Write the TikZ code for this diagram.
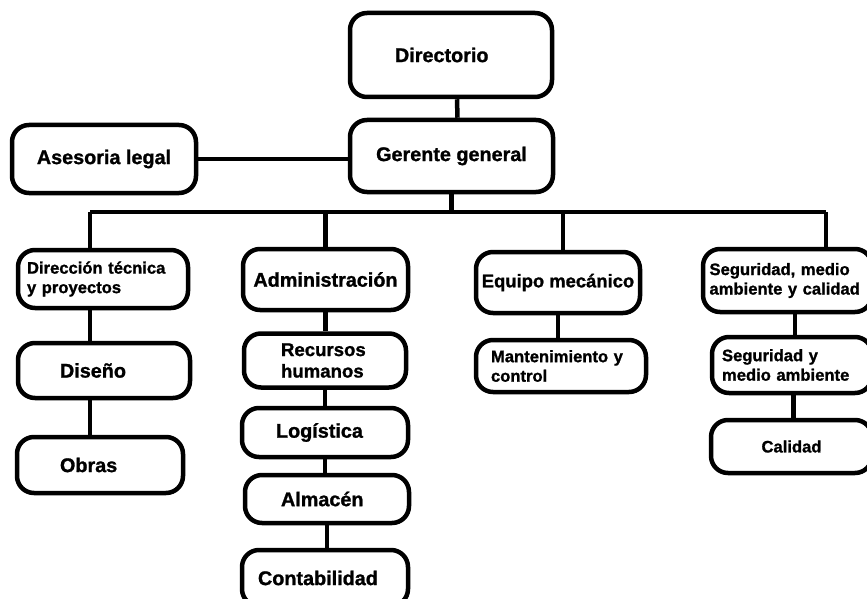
\documentclass[tikz,border=0pt]{standalone}
\usepackage{fontspec}
\setmainfont{Liberation Sans}[BoldFeatures={FakeBold=1.2}]
\usetikzlibrary{calc}
\tikzstyle{box} = [draw, line width=4.5, rounded corners=17, inner xsep=2, inner ysep=0, font=\bfseries]
\tikzstyle{big text}   = [font=\fontsize{19.8}{22}\selectfont\bfseries]
\tikzstyle{small text} = [font=\fontsize{16.6}{19.5}\selectfont\bfseries]

\begin{document}
\begin{tikzpicture}[x=1pt, y=-1pt, line width=4.5]
    \useasboundingbox (0,0) rectangle (867,599);
    \clip (0,0) rectangle (867,599);

    % Top of the chart
    \node(dir)[box, big text, minimum width=202, minimum height=84, text width=112, align=left] at (451,55) {Directorio};
    \node(ger)[box, big text, minimum width=203, minimum height=72] at (451.5,156) {Gerente general};
    \node(ase)[box, big text, minimum width=184, minimum height=68] at (104,159) {Asesoria legal};

    % First level
    \node(dtp)[box, small text, minimum width=170, minimum height=58, text width=152, align=left] at (103,279) {Dirección técnica\\y proyectos};
    \node(adm)[box, big text, minimum width=165, minimum height=61] at (325.5,279.5) {Administración};
    \node(equ)[box, font=\fontsize{18.4}{21}\selectfont\bfseries, minimum width=164, minimum height=61] at (558,282.5) {Equipo mecánico};
    \node(seg)[box, small text, minimum width=169, minimum height=63, text width=156, align=left] at (787.5,280.5) {Seguridad, medio\\ambiente y calidad};

    % Direccion tecnica branch
    \node(dis)[box, big text, minimum width=172, minimum height=55, text width=88, align=left] at (104,370.5) {Diseño};
    \node(obr)[box, big text, minimum width=166, minimum height=56, text width=80, align=left] at (100,465) {Obras};

    % Administracion branch
    \node(rh)[box, font=\fontsize{18.6}{21.5}\selectfont\bfseries, minimum width=162, minimum height=54, text width=88, align=left] at (325,360.5) {Recursos\\humanos};
    \node(log)[box, big text, minimum width=166, minimum height=49, text width=98, align=left] at (325,432.5) {Logística};
    \node(alm)[box, big text, minimum width=164, minimum height=48, text width=92, align=left] at (327,499) {Almacén};
    \node(con)[box, big text, minimum width=166, minimum height=56, text width=134, align=left] at (325,578) {Contabilidad};

    % Equipo mecanico branch
    \node(man)[box, small text, minimum width=170, minimum height=52, text width=140, align=left] at (561,366) {Mantenimiento y\\control};

    % Seguridad branch
    \node(sma)[box, small text, minimum width=160, minimum height=56, text width=140, align=left] at (792,365) {Seguridad y\\medio ambiente};
    \node(cal)[box, small text, minimum width=161, minimum height=53] at (791.5,446.5) {Calidad};

    % Bus under Gerente general
    \coordinate(b1) at (90,212);
    \coordinate(b4) at (826,212);

    % Connectors at the top
    \draw ([xshift=6]dir.south) -- ([xshift=6]ger.north);
    \draw (ase.east) -- (ase.east -| ger.west);
    \draw (ger.south) -- (ger.south |- b1);
    \draw (b1) -- (b4);

    % Drops to the first level
    \draw (b1) -- (b1 |- dtp.north);
    \draw (adm.north |- b1) -- (adm.north);
    \draw ([xshift=5]equ.north |- b1) -- ([xshift=5]equ.north);
    \draw (b4) -- (b4 |- seg.north);

    % Chains below
    \draw (dtp.south -| b1) -- (dis.north -| b1);
    \draw (dis.south -| b1) -- (obr.north -| b1);
    \draw (adm.south) -- (adm.south |- rh.north);
    \draw (rh.south) -- (rh.south |- log.north);
    \draw (log.south) -- (log.south |- alm.north);
    \draw (alm.south) -- (alm.south |- con.north);
    \draw (equ.south) -- (equ.south |- man.north);
    \draw ([xshift=3]sma.north |- seg.south) -- ([xshift=3]sma.north);
    \draw ([xshift=2]cal.north |- sma.south) -- ([xshift=2]cal.north);

\end{tikzpicture}
\end{document}
